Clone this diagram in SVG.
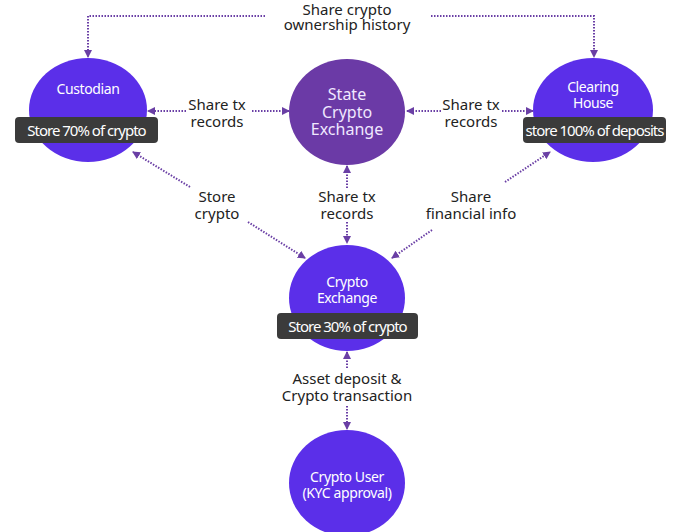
<svg xmlns="http://www.w3.org/2000/svg" width="694" height="532" viewBox="0 0 694 532">
<defs>
<marker id="ah" viewBox="0 0 8 8" refX="7" refY="4" markerWidth="8" markerHeight="8" markerUnits="userSpaceOnUse" orient="auto">
<path d="M0,0 L8,4 L0,8 z" fill="#6a3fa5"/>
</marker>
<style>
.node{fill:#5b2fe9}
.state{fill:#6b3aa6}
.box{fill:#3b3b3b}
.nt{font-family:"Noto Sans","Open Sans",sans-serif;font-size:14px;fill:#ffffff;text-anchor:middle;letter-spacing:-0.4px}
.st{font-family:"Noto Sans","Open Sans",sans-serif;font-size:16px;fill:#f0e8ff;text-anchor:middle}
.bt{font-family:"Noto Sans","Open Sans",sans-serif;font-size:15px;fill:#ffffff;text-anchor:middle;letter-spacing:-1px}
.lbl{font-family:"Noto Sans","Open Sans",sans-serif;font-size:15px;fill:#222222;text-anchor:middle}
.c{fill:none;stroke:#6a3fa5;stroke-width:2;stroke-dasharray:1.5 1.5;marker-end:url(#ah)}
</style>
</defs>
<rect width="694" height="532" fill="#ffffff"/>
<g id="connectors">
<path class="c" d="M265,16 H88 V57"/>
<path class="c" d="M431,16 H594 V57"/>
<path class="c" d="M186,111 H148"/>
<path class="c" d="M252,111 H289"/>
<path class="c" d="M441,111 H407"/>
<path class="c" d="M502,111 H533"/>
<path class="c" d="M190,187 L133,152"/>
<path class="c" d="M248,222 L305,258"/>
<path class="c" d="M347,188 V166"/>
<path class="c" d="M347,222 V243"/>
<path class="c" d="M505,182 L550,152"/>
<path class="c" d="M432,230 L392,258"/>
<path class="c" d="M347,368 V352"/>
<path class="c" d="M347,406 V429"/>
</g>
<g id="labels">
<text class="lbl" x="347" y="15">Share crypto<tspan x="347" dy="15">ownership history</tspan></text>
<text class="lbl" x="217" y="110">Share tx<tspan x="217" dy="17">records</tspan></text>
<text class="lbl" x="471" y="110">Share tx<tspan x="471" dy="17">records</tspan></text>
<text class="lbl" x="217" y="202">Store<tspan x="217" dy="17">crypto</tspan></text>
<text class="lbl" x="347" y="202">Share tx<tspan x="347" dy="17">records</tspan></text>
<text class="lbl" x="471" y="202">Share<tspan x="471" dy="17">financial info</tspan></text>
<text class="lbl" x="347" y="384">Asset deposit &amp;<tspan x="347" dy="17">Crypto transaction</tspan></text>
</g>
<g id="custodian">
<ellipse class="node" cx="88" cy="110" rx="59" ry="52"/>
<text class="nt" x="88" y="94">Custodian</text>
<rect class="box" x="15" y="117" width="143" height="26" rx="4"/>
<text class="bt" x="86.5" y="135.5">Store 70% of crypto</text>
</g>
<g id="state-crypto-exchange">
<ellipse class="state" cx="347" cy="112" rx="58" ry="53"/>
<text class="st" x="347" y="100">State<tspan x="347" dy="17.5">Crypto</tspan><tspan x="347" dy="17.5">Exchange</tspan></text>
</g>
<g id="clearing-house">
<ellipse class="node" cx="593" cy="110" rx="60" ry="52"/>
<text class="nt" x="593" y="92">Clearing<tspan x="593" dy="15.5">House</tspan></text>
<rect class="box" x="523" y="117" width="143" height="26" rx="4"/>
<text class="bt" x="594.5" y="135.5">store 100% of deposits</text>
</g>
<g id="crypto-exchange">
<ellipse class="node" cx="347" cy="298" rx="58" ry="53"/>
<text class="nt" x="347" y="287">Crypto<tspan x="347" dy="15.5">Exchange</tspan></text>
<rect class="box" x="277" y="313" width="141" height="26" rx="4"/>
<text class="bt" x="347.5" y="331.5">Store 30% of crypto</text>
</g>
<g id="crypto-user">
<ellipse class="node" cx="347" cy="483" rx="58" ry="53"/>
<text class="nt" x="347" y="482">Crypto User<tspan x="347" dy="16">(KYC approval)</tspan></text>
</g>
</svg>
